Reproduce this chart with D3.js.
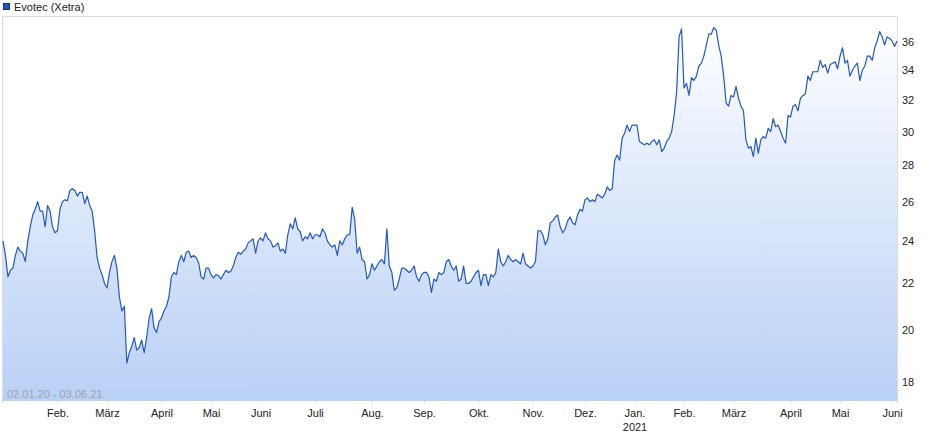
<!DOCTYPE html>
<html>
<head>
<meta charset="utf-8">
<script src="https://cdn.jsdelivr.net/npm/d3@7/dist/d3.min.js"></script>
<style>
  html, body { margin: 0; padding: 0; background: #fff; }
  svg { display: block; font-family: "Liberation Sans", Arial, sans-serif; }
</style>
</head>
<body>
<svg id="chart" width="940" height="435"></svg>
<script>
// ---------- data ----------
const seriesName = "Evotec (Xetra)";
const rangeLabel = "02.01.20 - 03.06.21";
const startDate = "2020-01-02";
const endDate = "2021-06-03";
const holidays = ["2020-04-10","2020-04-13","2020-05-01","2020-12-24","2020-12-25","2020-12-31",
                  "2021-01-01","2021-04-02","2021-04-05"];
const monthNames = ["Jan.","Feb.","März","April","Mai","Juni","Juli","Aug.","Sep.","Okt.","Nov.","Dez."];
const yTicks = [18,20,22,24,26,28,30,32,34,36];
const closes = [
24.0,23.3,22.3,22.6,22.7,23.3,23.7,23.5,23.4,23.0,
24.0,24.7,25.3,25.6,26.0,25.5,25.5,24.7,25.8,25.5,
24.7,24.4,24.5,25.6,26.0,26.1,26.05,26.6,26.7,26.6,
26.3,26.5,26.5,25.9,26.3,25.8,25.5,24.5,23.2,22.7,
22.4,22.0,21.8,22.5,23.0,23.3,22.7,21.4,20.8,21.0,
18.7,19.1,19.35,19.7,19.2,19.3,19.6,19.1,19.7,20.5,
20.9,20.1,19.9,20.35,20.5,20.8,21.0,21.4,22.3,22.5,
22.4,23.0,23.3,23.0,23.45,23.5,23.2,23.3,23.2,22.95,
22.3,22.2,22.7,22.7,22.4,22.25,22.4,22.35,22.2,22.4,
22.6,22.5,22.55,22.8,23.2,23.45,23.35,23.5,23.6,23.9,
24.0,24.1,23.4,24.0,24.15,24.0,24.4,24.1,24.0,23.7,
23.75,23.9,23.5,23.6,23.4,24.3,24.85,24.6,25.15,24.6,
24.45,24.0,24.2,24.1,24.4,24.1,24.3,24.3,24.2,24.6,
24.4,24.0,23.8,23.7,23.8,23.3,24.0,23.8,24.1,24.3,
24.3,25.7,25.1,23.4,23.7,23.1,23.0,22.2,22.4,22.9,
22.6,22.8,23.0,23.1,22.9,24.6,22.8,22.5,21.7,21.8,
22.2,22.7,22.7,22.6,22.5,22.6,22.8,22.3,22.1,22.4,
22.5,22.5,22.3,21.6,22.2,22.1,22.5,22.4,22.5,23.0,
23.1,22.8,22.6,22.8,22.1,22.2,22.8,22.0,22.0,22.1,
22.3,22.5,22.6,21.9,22.4,22.4,21.9,22.4,22.3,22.5,
23.6,23.0,22.8,23.0,23.3,23.1,23.0,23.1,23.0,22.9,
23.4,22.9,22.8,22.7,22.8,23.0,24.5,24.5,24.3,23.8,
24.1,24.9,25.0,25.2,25.3,24.7,24.4,24.6,25.0,25.2,
24.9,24.8,25.3,25.6,25.5,26.1,26.2,26.0,26.1,26.0,
26.4,26.3,26.2,26.4,26.8,26.6,26.7,28.3,28.6,28.3,
29.6,29.9,30.4,30.0,30.4,30.4,30.4,29.4,29.3,29.2,
29.3,29.2,29.4,29.5,29.2,29.5,28.8,29.0,29.4,29.6,
30.0,31.0,32.5,36.4,37.0,32.8,33.1,32.3,33.5,33.3,
33.6,34.3,34.5,35.0,35.8,36.6,36.6,37.1,36.9,35.8,
35.0,33.6,31.8,31.6,32.3,32.2,32.9,32.1,31.6,31.3,
29.5,29.0,29.1,28.5,29.6,28.7,29.5,29.7,29.6,30.2,
30.0,30.8,30.3,30.4,30.0,29.6,29.3,31.0,30.9,31.6,
31.7,31.3,32.1,32.3,32.4,33.6,33.3,33.9,33.9,33.9,
34.7,34.2,34.4,33.8,34.4,34.5,34.6,34.1,35.0,35.6,
34.5,34.7,33.6,34.0,34.3,34.5,33.3,34.0,34.3,35.0,
35.0,34.7,35.6,36.1,36.8,36.4,35.8,36.4,36.3,36.1,
35.7,36.1
];

// ---------- trading calendar (Xetra) ----------
const parse = d3.utcParse("%Y-%m-%d");
const fmt = d3.utcFormat("%Y-%m-%d");
const holidaySet = new Set(holidays);
const days = d3.utcDays(parse(startDate), d3.utcDay.offset(parse(endDate), 1))
  .filter(d => d.getUTCDay() !== 0 && d.getUTCDay() !== 6 && !holidaySet.has(fmt(d)));
const n = closes.length;
const data = closes.map((v, i) => ({ i, date: days[Math.min(i, days.length - 1)], v }));

// month start ticks
const monthTicks = [];
for (let i = 1; i < Math.min(days.length, n); i++) {
  if (days[i].getUTCMonth() !== days[i - 1].getUTCMonth()) monthTicks.push(i);
}

// ---------- layout ----------
const svg = d3.select("#chart");
const L = 3, R = 897, T = 17, B = 401;

const x = d3.scaleLinear().domain([0, n - 1]).range([L, R]);
const y = d3.scaleLog().domain([17.305, 37.91]).range([B, T]);

// gradient
const defs = svg.append("defs");
const grad = defs.append("linearGradient")
  .attr("id", "fillGrad").attr("gradientUnits", "userSpaceOnUse")
  .attr("x1", 0).attr("y1", T).attr("x2", 0).attr("y2", B);
grad.append("stop").attr("offset", "0%").attr("stop-color", "#ffffff");
grad.append("stop").attr("offset", "100%").attr("stop-color", "#b9d0f6");

// area + line
const area = d3.area().x(d => x(d.i)).y0(B).y1(d => y(d.v));
const line = d3.line().x(d => x(d.i)).y(d => y(d.v));

svg.append("path").datum(data).attr("d", area).attr("fill", "url(#fillGrad)");

// frame
svg.append("line").attr("x1", L).attr("x2", R + 1).attr("y1", T - 0.5).attr("y2", T - 0.5)
  .attr("stroke", "#dcdcdc");
svg.append("line").attr("x1", L - 0.5).attr("x2", L - 0.5).attr("y1", T - 1).attr("y2", B + 2)
  .attr("stroke", "#dcdcdc");
svg.append("line").attr("x1", R + 0.5).attr("x2", R + 0.5).attr("y1", T - 1).attr("y2", B + 2)
  .attr("stroke", "#dcdcdc");

svg.append("path").datum(data).attr("d", line)
  .attr("fill", "none").attr("stroke", "#2258c4").attr("stroke-width", 1.2)
  .attr("stroke-linejoin", "round");

// y axis (right)
const yAxis = d3.axisRight(y).tickValues(yTicks).tickSize(0).tickPadding(5)
  .tickFormat(d3.format("d"));
const gy = svg.append("g").attr("transform", `translate(${R},0)`).call(yAxis);
gy.select(".domain").remove();
gy.selectAll("text").attr("fill", "#222").style("font-size", "11px")
  .style("font-family", "'Liberation Sans', Arial, sans-serif");

// x axis
const xAxis = d3.axisBottom(x).tickValues(monthTicks).tickSize(3).tickPadding(5)
  .tickFormat(i => monthNames[days[i].getUTCMonth()]);
const gx = svg.append("g").attr("transform", `translate(0,${B})`).call(xAxis);
gx.select(".domain").remove();
gx.selectAll(".tick line").attr("stroke", "#e2e2e2");
gx.selectAll("text").attr("fill", "#222").style("font-size", "11px")
  .style("font-family", "'Liberation Sans', Arial, sans-serif");
gx.selectAll(".tick").filter(i => days[i].getUTCMonth() === 0)
  .append("text").attr("y", 22).attr("dy", "0.71em").attr("text-anchor", "middle")
  .attr("fill", "#222").style("font-size", "11px")
  .style("font-family", "'Liberation Sans', Arial, sans-serif")
  .text(i => days[i].getUTCFullYear());

// date range label
svg.append("text").attr("x", 7).attr("y", 398).attr("fill", "#9aa3b0")
  .style("font-size", "11px").text(rangeLabel);

// legend
svg.append("rect").attr("x", 3.5).attr("y", 3.5).attr("width", 6).attr("height", 6)
  .attr("fill", "#1f55c0").attr("stroke", "#15306e");
svg.append("text").attr("x", 14).attr("y", 11).attr("fill", "#222")
  .style("font-size", "11px").text(seriesName);
</script>
</body>
</html>
